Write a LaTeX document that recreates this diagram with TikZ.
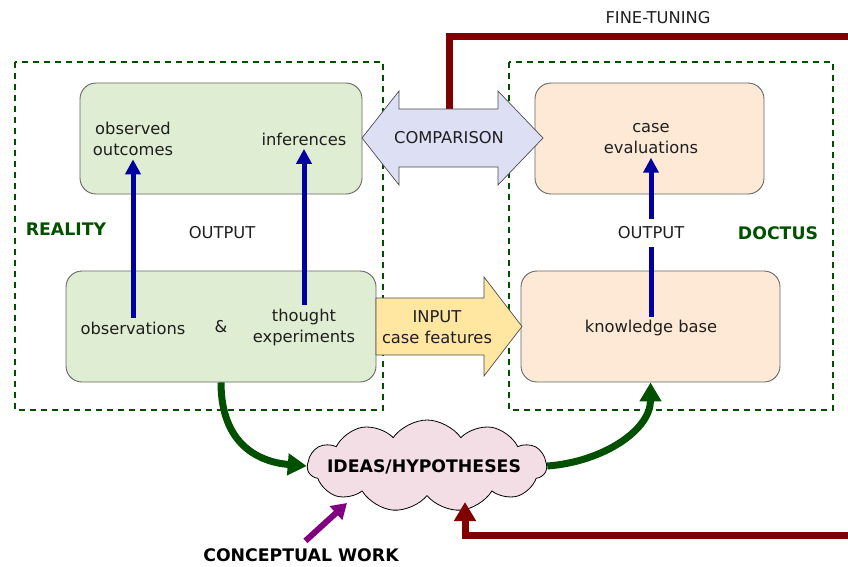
\documentclass[tikz,border=0pt]{standalone}
\usepackage{fontspec}
\setmainfont{DejaVu Sans}
\usetikzlibrary{arrows.meta,shapes.symbols,backgrounds}

\definecolor{realgreen}{HTML}{DFEED2}
\definecolor{doctorange}{HTML}{FDE9D6}
\definecolor{cmpblue}{HTML}{DDE0F4}
\definecolor{inyellow}{HTML}{FFE6A1}
\definecolor{cloudpink}{HTML}{F2DEE4}
\definecolor{darkgreen}{HTML}{005000}
\definecolor{outblue}{HTML}{0000A0}
\definecolor{tunered}{HTML}{800000}
\definecolor{workpurple}{HTML}{800080}

\tikzset{
	lbl/.style={font=\fontsize{16.3}{21}\selectfont, align=center, text=black!88},
	bold lbl/.style={font=\fontsize{17.3}{21}\selectfont\bfseries},
	panel/.style={draw=black!60, line width=0.9pt, rounded corners=16pt},
	area/.style={draw=darkgreen, line width=1.4pt, dash pattern=on 6pt off 5pt},
	out arrow/.style={outblue, line width=5pt, -{Triangle[width=15pt,length=15pt]}},
	fat arrow/.style={line width=7pt, -{Triangle[width=21pt,length=19pt]}},
	block arrow/.style={draw=black!70, line width=0.7pt, line join=miter},
}

\begin{document}
\begin{tikzpicture}[x=1pt, y=-1pt]
	\useasboundingbox (0,0) rectangle (848,566);

	% the two worlds
	\draw[area] (15,62) rectangle (383,410);
	\draw[area] (509,62) rectangle (833,410);

	% reality side
	\node[panel, fill=realgreen, minimum width=282pt, minimum height=111pt] (outcomebox) at (221,138.5) {};
	\node[panel, fill=realgreen, minimum width=310pt, minimum height=111pt] (expbox) at (221,326.5) {};
	% doctus side
	\node[panel, fill=doctorange, minimum width=229pt, minimum height=111pt] (evalbox) at (649.5,138.5) {};
	\node[panel, fill=doctorange, minimum width=259pt, minimum height=111pt] (kbbox) at (650.5,326.5) {};

	% comparison and input arrows
	\draw[block arrow, fill=cmpblue] (362,138) -- (399,91) -- (399,109) -- (498,109) -- (498,91) -- (543,138)
		-- (498,185) -- (498,167) -- (399,167) -- (399,185) -- cycle;
	\draw[block arrow, fill=inyellow] (376,298) -- (484,298) -- (484,277) -- (522,326.5)
		-- (484,376) -- (484,355) -- (376,355) -- cycle;

	% texts
	\node[lbl] (outc) at (133,139) {observed\\outcomes};
	\node[lbl] (infer) at (304,139) {inferences};
	\node[lbl] (obs) at (133,328) {observations};
	\node[lbl] (amp) at (221,327) {\&};
	\node[lbl] (thought) at (304,327) {thought\\experiments};
	\node[lbl] (out1) at (222,233) {OUTPUT};
	\node[bold lbl, text=darkgreen] (reality) at (66,229) {REALITY};

	\node[lbl] (cmp) at (449,138) {COMPARISON};
	\node[lbl] (input) at (437,327) {INPUT\\case features};

	\node[lbl] (evalu) at (651,139) {case\\evaluations};
	\node[lbl] (kb) at (651,328) {knowledge base};
	\node[lbl, inner ysep=8pt] (out2) at (651,233) {OUTPUT};
	\node[bold lbl, text=darkgreen] (doctus) at (778,233) {DOCTUS};

	\node[lbl] (tune) at (658,18) {FINE-TUNING};
	\node[cloud, cloud puffs=11, cloud puff arc=110, cloud ignores aspect, draw=black, line width=0.8pt,
		fill=cloudpink, minimum width=239pt, minimum height=92pt] (ideas) at (427,466) {};
	\node[bold lbl] (ideas text) at (424,467) {IDEAS/HYPOTHESES};
	\node[bold lbl] (concept) at (301,555) {CONCEPTUAL WORK};

	\coordinate (tune top) at (858,36);
	\coordinate (tune low) at (858,535);

	% outputs
	\draw[out arrow] (obs) -- (outc);
	\draw[out arrow] (thought) -- (infer);
	\draw[outblue, line width=5pt] (kb) -- (out2);
	\draw[out arrow] (out2) -- (evalu);

	% hypotheses loop
	\draw[fat arrow, darkgreen] (expbox.south) .. controls +(0,62) and +(-48,-4) .. (ideas.west);
	\draw[fat arrow, darkgreen] (ideas.east) .. controls +(55,-4) and +(0,48) .. (kbbox.south);
	\begin{scope}[on background layer]
		\draw[tunered, line width=7pt] (cmp.center) |- (tune top);
	\end{scope}
	\draw[fat arrow, tunered] (tune low) -| ([xshift=38pt, yshift=-36pt]ideas.center);
	\draw[workpurple, line width=6pt, -{Triangle[width=18pt,length=15pt]}, shorten <=6pt]
		(concept.north) -- ([xshift=-80pt, yshift=-37pt]ideas.center);
\end{tikzpicture}
\end{document}
